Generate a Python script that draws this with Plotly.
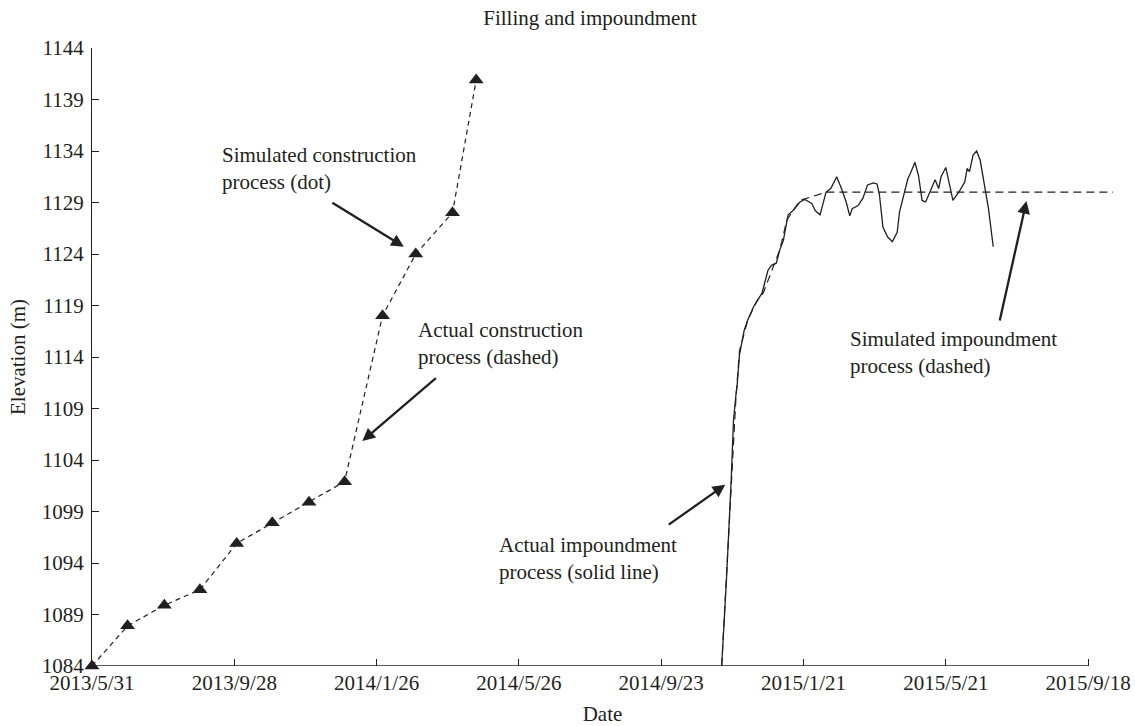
import plotly.graph_objects as go

# Dam filling (construction) records
construction_dates = ["2013-05-31", "2013-06-30", "2013-07-31", "2013-08-30", "2013-09-30",
                      "2013-10-30", "2013-11-30", "2013-12-30", "2014-01-31", "2014-02-28",
                      "2014-03-31", "2014-04-20"]
construction_elev = [1084.0, 1087.9, 1089.9, 1091.4, 1095.9, 1097.9, 1099.9, 1101.9,
                     1118.0, 1124.0, 1128.0, 1140.9]

# Measured reservoir level during impoundment
actual_dates = ["2014-11-13", "2014-11-17", "2014-11-21", "2014-11-23", "2014-11-25",
                "2014-11-26", "2014-11-28", "2014-12-02", "2014-12-05", "2014-12-10",
                "2014-12-17", "2014-12-22", "2014-12-25", "2014-12-29", "2015-01-01",
                "2015-01-04", "2015-01-08", "2015-01-12", "2015-01-18", "2015-01-22",
                "2015-01-28", "2015-01-31", "2015-02-04", "2015-02-09", "2015-02-13",
                "2015-02-18", "2015-02-22", "2015-02-26", "2015-03-01", "2015-03-03",
                "2015-03-08", "2015-03-12", "2015-03-16", "2015-03-21", "2015-03-24",
                "2015-03-26", "2015-03-29", "2015-04-02", "2015-04-06", "2015-04-10",
                "2015-04-12", "2015-04-15", "2015-04-19", "2015-04-21", "2015-04-25",
                "2015-04-28", "2015-05-01", "2015-05-04", "2015-05-08", "2015-05-12",
                "2015-05-15", "2015-05-17", "2015-05-21", "2015-05-24", "2015-05-27",
                "2015-06-01", "2015-06-06", "2015-06-08", "2015-06-10", "2015-06-13",
                "2015-06-16", "2015-06-19", "2015-06-22", "2015-06-26", "2015-06-30"]
actual_elev = [1084.0, 1092.3, 1102.0, 1107.9, 1110.3,
               1111.2, 1114.2, 1116.6, 1117.6, 1118.9,
               1120.2, 1122.4, 1122.9, 1123.1, 1124.4,
               1125.3, 1127.8, 1128.2, 1129.05, 1129.3,
               1128.9, 1128.2, 1127.8, 1130.0, 1130.35,
               1131.5, 1130.35, 1129.05, 1127.7, 1128.4,
               1128.7, 1129.4, 1130.7, 1130.9, 1130.8,
               1129.8, 1126.6, 1125.65, 1125.2, 1126.1,
               1128.1, 1129.4, 1131.3, 1131.8, 1132.9,
               1131.6, 1129.2, 1129.05, 1130.2, 1131.2,
               1130.35, 1131.5, 1132.4, 1130.7, 1129.2,
               1130.0, 1131.0, 1132.3, 1132.0, 1133.6,
               1134.0, 1133.1, 1131.0, 1128.4, 1124.7]

# Simulated impoundment curve
sim_dates = ["2014-11-13", "2014-11-21", "2014-11-25", "2014-11-28", "2014-12-05",
             "2014-12-13", "2014-12-18", "2014-12-25", "2015-01-01", "2015-01-07",
             "2015-01-18", "2015-02-09", "2015-10-09"]
sim_elev = [1084.0, 1102.0, 1110.0, 1114.6, 1117.6,
            1119.5, 1120.2, 1122.3, 1124.4, 1127.3,
            1129.2, 1130.0, 1130.0]

x_range = ["2013-05-31", "2015-10-09"]
x_axis_end = "2015-09-18"
y_range = [1084, 1144]

INK = "#231f20"
FONT = "Liberation Serif, Times New Roman, serif"

fig = go.Figure()

fig.add_trace(go.Scatter(
    x=construction_dates, y=construction_elev, mode="lines+markers",
    line=dict(color=INK, width=1.2, dash="5px,4px"),
    marker=dict(symbol="triangle-up", size=13, color=INK),
    cliponaxis=False, showlegend=False, hoverinfo="skip"))

fig.add_trace(go.Scatter(
    x=sim_dates, y=sim_elev, mode="lines",
    line=dict(color=INK, width=1.2, dash="8px,5px"),
    showlegend=False, hoverinfo="skip"))

fig.add_trace(go.Scatter(
    x=actual_dates, y=actual_elev, mode="lines",
    line=dict(color=INK, width=1.3),
    showlegend=False, hoverinfo="skip"))

# bottom axis line stops at the last labelled date
fig.add_shape(type="line", xref="x", yref="y",
              x0=x_range[0], x1=x_axis_end, y0=y_range[0], y1=y_range[0],
              line=dict(color=INK, width=1.3), layer="above")

# Text labels
labels = [
    ("Simulated construction<br>process (dot)", 220, 169),
    ("Actual construction<br>process (dashed)", 416, 343),
    ("Actual impoundment<br>process (solid line)", 497, 558),
    ("Simulated impoundment<br>process (dashed)", 848, 352),
]
PL, PR, PT, PB = 92, 1113, 48, 666
for text, px, py in labels:
    fig.add_annotation(text=text, xref="paper", yref="paper",
                       x=(px - PL) / (PR - PL), y=(PB - py) / (PB - PT),
                       xanchor="left", yanchor="middle", align="left",
                       showarrow=False, font=dict(family=FONT, size=21, color=INK))

# Arrows: head in data coordinates, tail offset in pixels
arrows = [
    ("2014-02-18", 1124.7, -73, -45),
    ("2014-01-14", 1105.85, 75, -64),
    ("2014-11-16", 1101.6, -58, 41),
    ("2015-07-28", 1129.15, -27, 121),
]
for ax_date, ay_val, dx, dy in arrows:
    fig.add_annotation(x=ax_date, y=ay_val, xref="x", yref="y", text="",
                       showarrow=True, ax=dx, ay=dy, arrowhead=2, arrowsize=1.1,
                       arrowwidth=2.3, arrowcolor=INK, standoff=0)

fig.update_layout(
    width=1135, height=726,
    margin=dict(l=PL, r=1135 - PR, t=PT, b=726 - PB, autoexpand=False),
    paper_bgcolor="white", plot_bgcolor="white",
    font=dict(family=FONT, size=21, color=INK),
    title=dict(text="Filling and impoundment", x=590 / 1135, xanchor="center",
               y=1 - 18 / 726, yanchor="middle", xref="container", yref="container",
               font=dict(family=FONT, size=21, color=INK)),
    xaxis=dict(range=x_range, type="date", tick0=x_range[0], dtick=120 * 86400000,
               tickformat="%Y/%-m/%-d", ticks="inside", ticklen=7, tickwidth=1.3,
               tickcolor=INK, showline=False, showgrid=False, zeroline=False,
               ticklabelstandoff=2, automargin=False,
               tickfont=dict(family=FONT, size=21, color=INK),
               title=dict(text="Date", font=dict(family=FONT, size=21, color=INK), standoff=14)),
    yaxis=dict(range=y_range, tick0=1084, dtick=5, ticks="inside", ticklen=7,
               tickwidth=1.3, tickcolor=INK, showline=True, linecolor=INK, linewidth=1.3,
               showgrid=False, zeroline=False, ticklabelstandoff=3, automargin=False,
               tickfont=dict(family=FONT, size=21, color=INK),
               title=dict(text="Elevation (m)", font=dict(family=FONT, size=21, color=INK), standoff=10)),
)

fig.write_html("out.html")
